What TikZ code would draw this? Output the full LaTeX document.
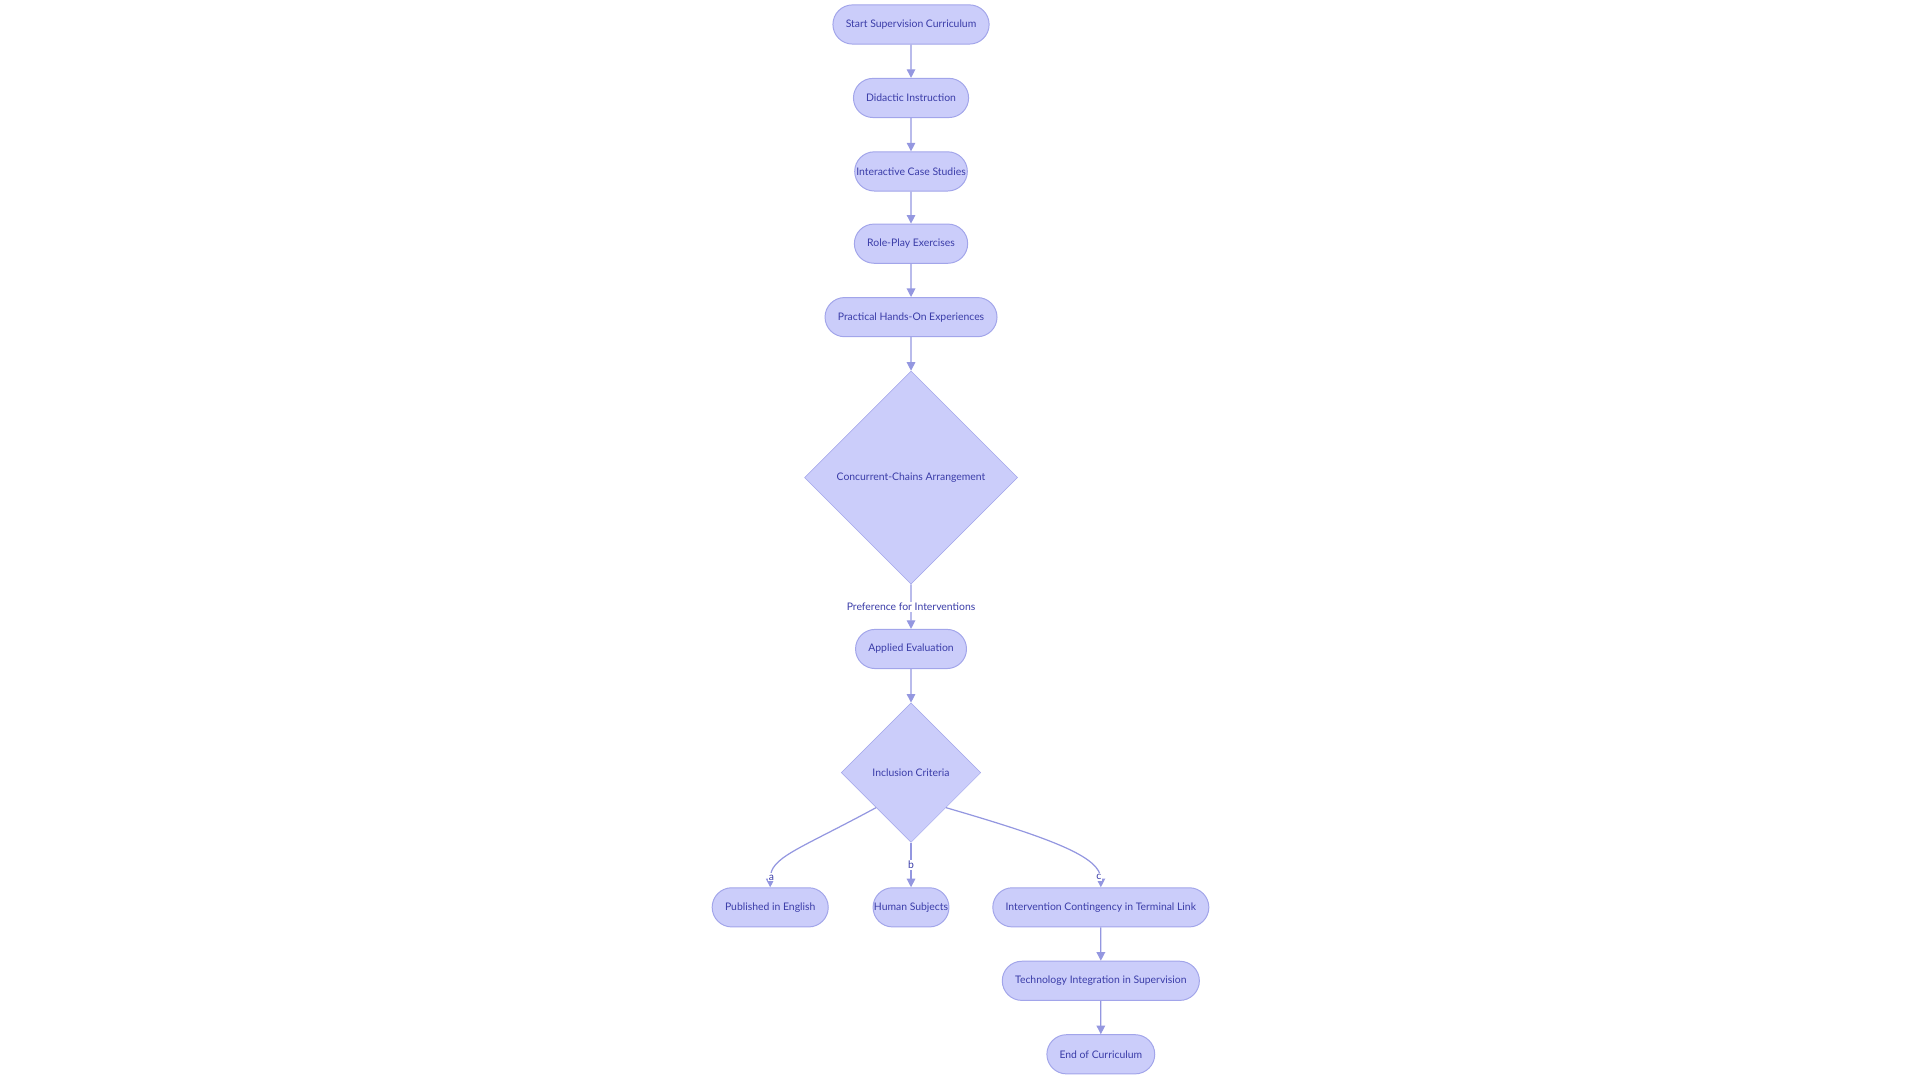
\documentclass[tikz,border=0pt]{standalone}
\usepackage{fontspec}
\setmainfont{Lato}
\usetikzlibrary{shapes.geometric,shapes.misc,arrows.meta}
\definecolor{nfill}{HTML}{CBCDFA}
\definecolor{nline}{HTML}{A2A5EA}
\definecolor{ntext}{HTML}{3A3CA8}
\definecolor{eline}{HTML}{9497E0}
\tikzset{
 pill/.style={rounded rectangle, draw=nline, fill=nfill, text=ntext, font=\fontsize{8.5}{10}\selectfont, minimum height=32pt, inner xsep=10pt, line width=0.8pt},
 dia/.style={diamond, aspect=1, draw=nline, fill=nfill, text=ntext, font=\fontsize{8.5}{10}\selectfont, inner sep=0pt},
 conn/.style={draw=eline, line width=1pt, -{Triangle[length=7pt,width=7pt]}},
 lbl/.style={text=ntext, font=\fontsize{8.5}{10}\selectfont, fill=white, inner sep=1pt}
}
\begin{document}
\begin{tikzpicture}[x=1pt,y=-1pt]
\useasboundingbox (0,0) rectangle (1568,882);
\node[pill, minimum width=126pt] (s) at (744,20) {Start Supervision Curriculum};
\node[pill, minimum width=94pt] (di) at (744,80) {Didactic Instruction};
\node[pill, minimum width=112pt] (ic) at (744,140) {Interactive Case Studies};
\node[pill, minimum width=92pt] (rp) at (744,199) {Role-Play Exercises};
\node[pill, minimum width=138pt] (ph) at (744,259) {Practical Hands-On Experiences};
\node[dia, minimum width=174pt, minimum height=174pt] (d1) at (744,390) {Concurrent-Chains Arrangement};
\node[pill, minimum width=88pt] (ae) at (744,530) {Applied Evaluation};
\node[dia, minimum width=114pt, minimum height=114pt] (d2) at (744,631) {Inclusion Criteria};
\node[pill, minimum width=92pt] (pe) at (629,741) {Published in English};
\node[pill, minimum width=82pt] (hs) at (744,741) {Human Subjects};
\node[pill, minimum width=170pt] (iv) at (899,741) {Intervention Contingency in Terminal Link};
\node[pill, minimum width=156pt] (ti) at (899,801) {Technology Integration in Supervision};
\node[pill, minimum width=86pt] (en) at (899,861) {End of Curriculum};
\draw[conn] (s) -- (di);
\draw[conn] (di) -- (ic);
\draw[conn] (ic) -- (rp);
\draw[conn] (rp) -- (ph);
\draw[conn] (ph) -- (d1);
\draw[conn] (d1) -- node[lbl, pos=0.5] (l0) {Preference for Interventions} (ae);
\draw[conn] (ae) -- (d2);
\draw[conn] (d2.south west) .. controls (650,695) and (629,700) .. node[lbl, pos=0.88] (la) {a} (pe.north);
\draw[conn] (d2) -- node[lbl, pos=0.5] (lb) {b} (hs);
\draw[conn] (d2.south east) .. controls (860,685) and (899,700) .. node[lbl, pos=0.88] (lc) {c} (iv.north);
\draw[conn] (iv) -- (ti);
\draw[conn] (ti) -- (en);
\end{tikzpicture}
\end{document}
